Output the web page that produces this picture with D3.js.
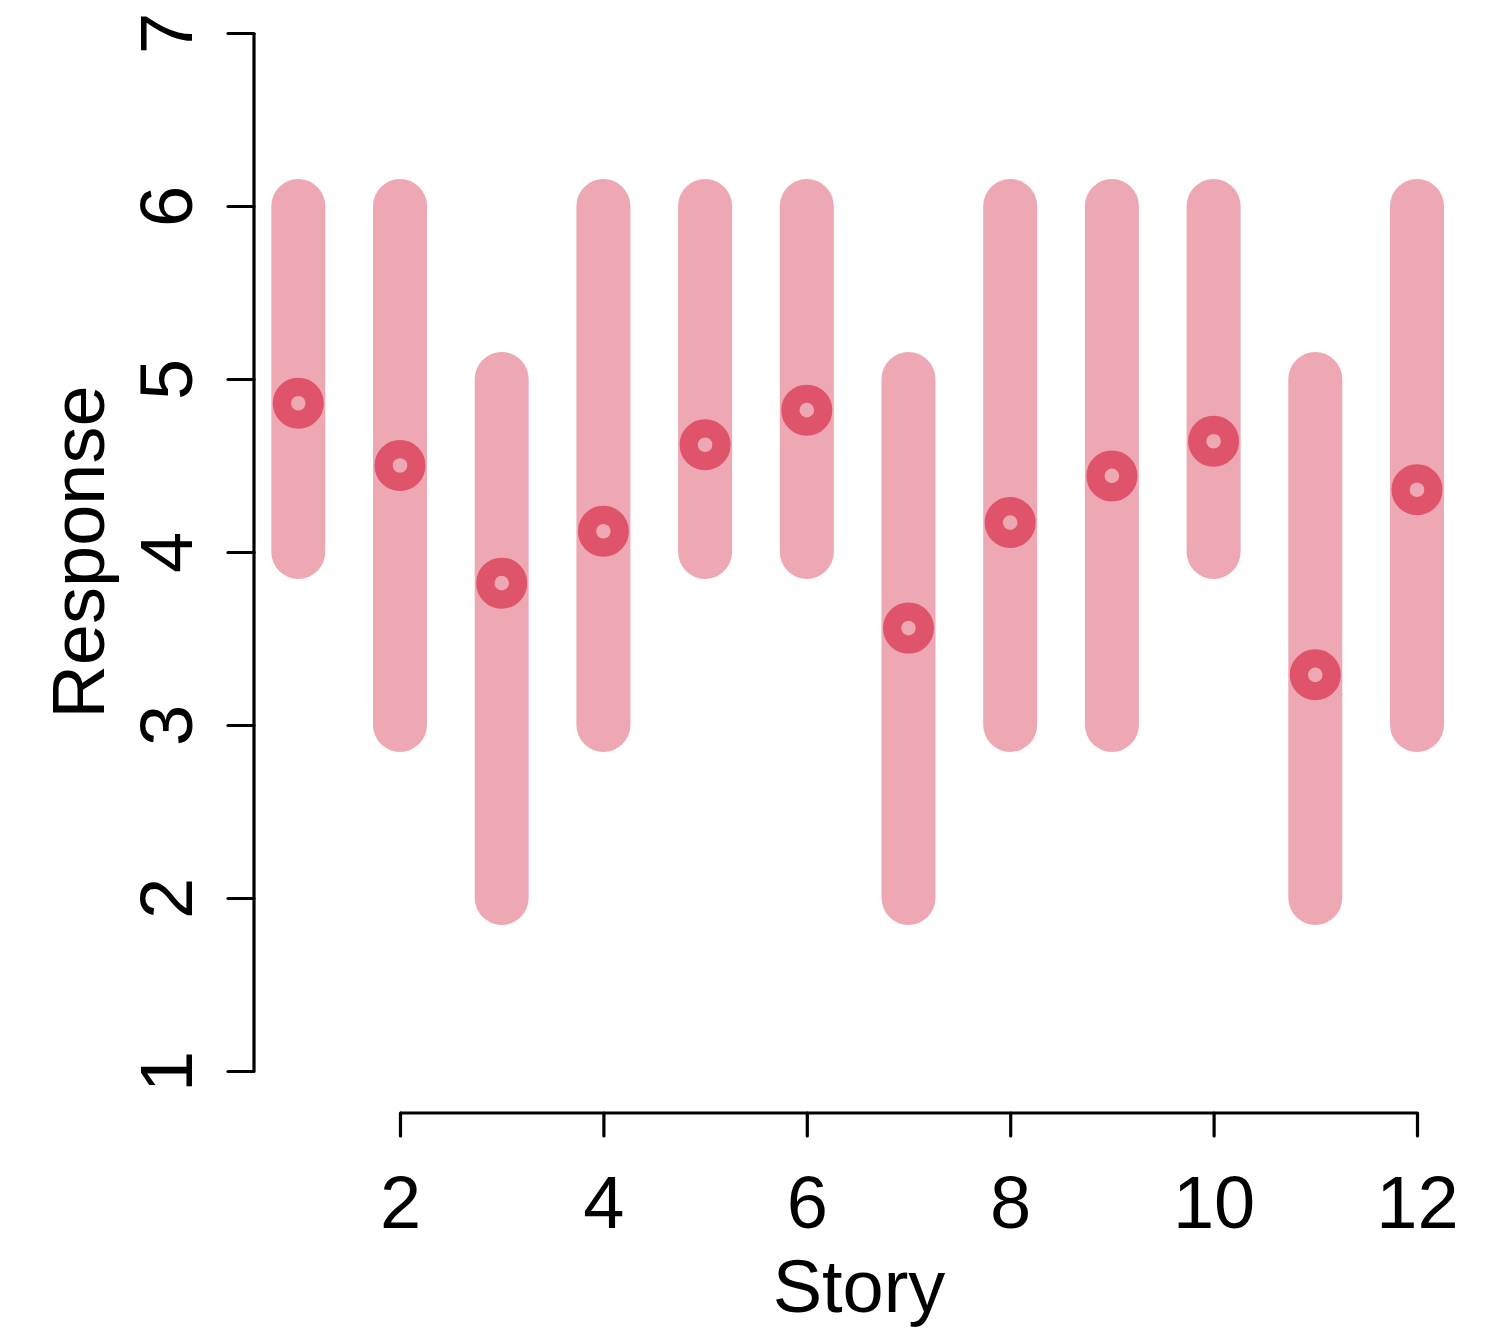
<!DOCTYPE html>
<html>
<head>
<meta charset="utf-8">
<script src="https://cdn.jsdelivr.net/npm/d3@7"></script>
<style>
  html, body { margin: 0; padding: 0; background: #fff; }
  svg { display: block; }
</style>
</head>
<body>
<svg id="chart" width="1502" height="1329"></svg>
<script>
// Per-story response ranges and means
const stories = [1, 2, 3, 4, 5, 6, 7, 8, 9, 10, 11, 12];
const lowValues  = [4, 3, 2, 3, 4, 4, 2, 3, 3, 4, 2, 3];
const highValues = [6, 6, 5, 6, 6, 6, 5, 6, 6, 6, 5, 6];
const meanValues = [4.86, 4.50, 3.82, 4.12, 4.62, 4.82, 3.56, 4.17, 4.44, 4.64, 3.29, 4.36];
const xTicks = [2, 4, 6, 8, 10, 12];
const yTicks = [1, 2, 3, 4, 5, 6, 7];

const rangeColor = "#EEA8B3";
const pointColor = "#DF536B";
const fontFamily = "'Liberation Sans', Arial, Helvetica, sans-serif";
const tickFont = 74;

const svg = d3.select("#chart");

const x = d3.scaleLinear().domain([2, 12]).range([400, 1417]);
const y = d3.scaleLinear().domain([1, 7]).range([1071, 33]);

const data = stories.map((s, i) => ({
  story: s, lo: lowValues[i], hi: highValues[i], mean: meanValues[i]
}));

// Range bars
svg.append("g").selectAll("line").data(data).join("line")
  .attr("x1", d => x(d.story)).attr("x2", d => x(d.story))
  .attr("y1", d => y(d.lo)).attr("y2", d => y(d.hi))
  .attr("stroke", rangeColor)
  .attr("stroke-width", 54)
  .attr("stroke-linecap", "round");

// Mean markers (open rings)
svg.append("g").selectAll("circle").data(data).join("circle")
  .attr("cx", d => x(d.story)).attr("cy", d => y(d.mean))
  .attr("r", 16.4)
  .attr("fill", "none")
  .attr("stroke", pointColor)
  .attr("stroke-width", 18.2);

// Y axis
const yAxis = svg.append("g")
  .attr("transform", "translate(254,0)")
  .call(d3.axisLeft(y).tickValues(yTicks).tickSize(26).tickSizeOuter(0).tickFormat(d3.format("d")));
yAxis.select(".domain").attr("stroke", "#000").attr("stroke-width", 3.2)
  .attr("d", `M0,${y(7)}V${y(1)}`);
yAxis.selectAll(".tick line").attr("stroke", "#000").attr("stroke-width", 3.2).attr("stroke-linecap", "round");
yAxis.selectAll(".tick text")
  .attr("x", null).attr("dy", null)
  .attr("transform", "translate(-62,0) rotate(-90)")
  .attr("text-anchor", "middle")
  .attr("fill", "#000")
  .style("font-family", fontFamily)
  .style("font-size", tickFont + "px");

// X axis
const xAxis = svg.append("g")
  .attr("transform", "translate(0,1113)")
  .call(d3.axisBottom(x).tickValues(xTicks).tickSize(23).tickSizeOuter(0).tickFormat(d3.format("d")));
xAxis.select(".domain").attr("stroke", "#000").attr("stroke-width", 3.2)
  .attr("d", `M${x(2)},0H${x(12)}`);
xAxis.selectAll(".tick line").attr("stroke", "#000").attr("stroke-width", 3.2).attr("stroke-linecap", "round");
xAxis.selectAll(".tick text")
  .attr("y", 115).attr("dy", null)
  .attr("text-anchor", "middle")
  .attr("fill", "#000")
  .style("font-family", fontFamily)
  .style("font-size", tickFont + "px");

// Axis titles
svg.append("text")
  .attr("x", 859).attr("y", 1312)
  .attr("text-anchor", "middle")
  .style("font-family", fontFamily)
  .style("font-size", tickFont + "px")
  .text("Story");

svg.append("text")
  .attr("transform", "translate(104,552) rotate(-90)")
  .attr("text-anchor", "middle")
  .style("font-family", fontFamily)
  .style("font-size", tickFont + "px")
  .text("Response");
</script>
</body>
</html>
